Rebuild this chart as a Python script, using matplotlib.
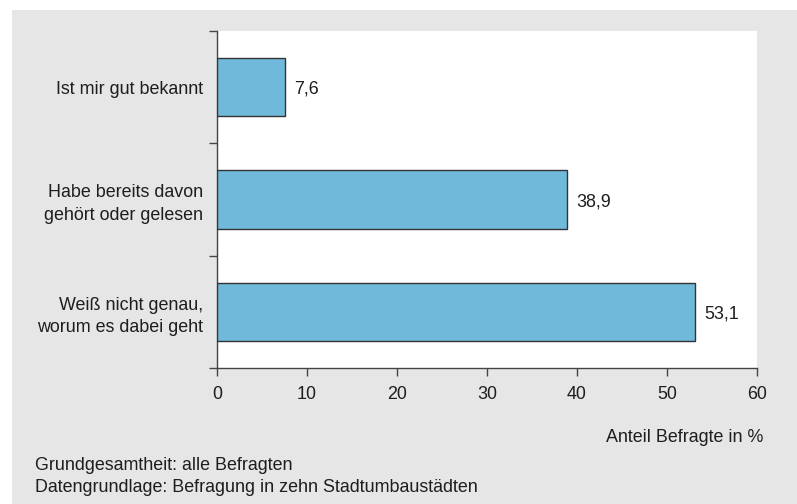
import matplotlib

matplotlib.use("Agg")
import matplotlib.pyplot as plt
from matplotlib.patches import Rectangle

categories = [
    "Ist mir gut bekannt",
    "Habe bereits davon\ngehört oder gelesen",
    "Weiß nicht genau,\nworum es dabei geht",
]
shares = [7.6, 38.9, 53.1]
x_ticks = [0, 10, 20, 30, 40, 50, 60]
notes = [
    "Grundgesamtheit: alle Befragten",
    "Datengrundlage: Befragung in zehn Stadtumbaustädten",
]

plt.rcParams["font.family"] = ["Liberation Sans", "DejaVu Sans"]
FS = 12.9
TXT = "#1e1e1e"

W, H = 797, 504
fig = plt.figure(figsize=(W / 100, H / 100), dpi=100)
fig.patch.set_facecolor("white")

# grey panel behind everything
fig.patches.append(
    Rectangle((12 / W, 0), 1 - 12 / W, 1 - 10 / H, transform=fig.transFigure,
              facecolor="#e6e6e6", edgecolor="none", zorder=-10)
)

left, right, top, bottom = 217, 757, 31, 368
ax = fig.add_axes([left / W, 1 - bottom / H, (right - left) / W, (bottom - top) / H])
ax.set_facecolor("white")

ypos = list(range(len(categories)))
ax.barh(ypos, shares, height=0.52, color="#70b9da", edgecolor="#333333", linewidth=1.0, zorder=3)
for y, v in zip(ypos, shares):
    ax.text(v + 1.0, y + 0.02, f"{v:.1f}".replace(".", ","), va="center", ha="left",
            fontsize=FS, color=TXT)

ax.set_xlim(0, 60)
ax.set_ylim(len(categories) - 0.5, -0.5)
ax.set_xticks(x_ticks)
ax.set_xticklabels([str(t) for t in x_ticks])
ax.set_yticks([-0.5, 0.5, 1.5, 2.5], minor=False)
ax.set_yticklabels([])
ax.set_yticks(ypos, minor=True)
ax.set_yticklabels(categories, minor=True)
ax.tick_params(axis="y", which="minor", length=0, pad=10, labelsize=FS, labelcolor=TXT)
ax.tick_params(axis="y", which="major", length=6, width=1, color="#444444", direction="out")
ax.tick_params(axis="x", length=6, width=1, color="#444444", direction="out", pad=7,
               labelsize=FS, labelcolor=TXT)
for lbl in ax.get_yticklabels(minor=True):
    lbl.set_multialignment("right")
    lbl.set_linespacing(1.4)

for side in ("top", "right"):
    ax.spines[side].set_visible(False)
for side in ("left", "bottom"):
    ax.spines[side].set_color("#444444")
    ax.spines[side].set_linewidth(1.0)

fig.text(763 / W, 1 - 438 / H, "Anteil Befragte in %", ha="right", va="center",
         fontsize=FS, color=TXT)
fig.text(35 / W, 1 - 465 / H, notes[0], ha="left", va="center", fontsize=FS, color=TXT)
fig.text(35 / W, 1 - 487 / H, notes[1], ha="left", va="center", fontsize=FS, color=TXT)

fig.savefig("out.png", dpi=100, facecolor=fig.get_facecolor())
